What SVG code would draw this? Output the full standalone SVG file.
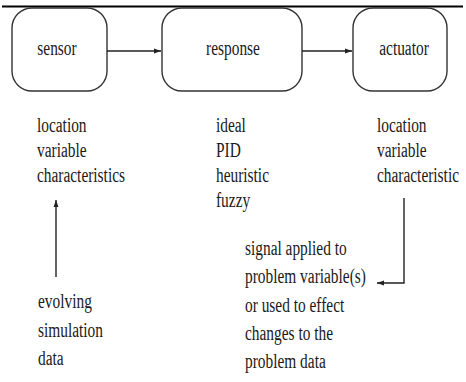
<svg xmlns="http://www.w3.org/2000/svg" width="466" height="382" viewBox="0 0 466 382">
<style>
.box{fill:#fff;stroke:#333;stroke-width:1.4}
.t{font-family:"Liberation Serif","Times New Roman",serif;font-size:20px;fill:#1a1a1a}
.c{text-anchor:middle}
.ln{stroke:#222;stroke-width:1.4;fill:none}
</style>
<defs>
<marker id="ah" viewBox="0 0 10 10" refX="10" refY="5" markerWidth="7" markerHeight="7" orient="auto" markerUnits="userSpaceOnUse">
<path d="M0,1.5 L10,5 L0,8.5 z" fill="#222"/>
</marker>
</defs>
<rect width="466" height="382" fill="#fff"/>
<line x1="2" y1="6.5" x2="463" y2="6.5" stroke="#000" stroke-width="2"/>
<g id="sensor">
<rect class="box" x="12" y="8" width="95" height="83" rx="20"/>
<text class="t c" transform="translate(57,55) scale(0.77,1)">sensor</text>
</g>
<g id="response">
<rect class="box" x="162" y="8" width="140" height="83" rx="20"/>
<text class="t c" transform="translate(233,55) scale(0.77,1)">response</text>
</g>
<g id="actuator">
<rect class="box" x="353" y="8" width="94" height="83" rx="20"/>
<text class="t c" transform="translate(404,55) scale(0.77,1)">actuator</text>
</g>
<g id="sensor-notes">
<text class="t" transform="translate(37,131.5) scale(0.77,1)">location</text>
<text class="t" transform="translate(37,156.5) scale(0.77,1)">variable</text>
<text class="t" transform="translate(37,181.5) scale(0.77,1)">characteristics</text>
</g>
<g id="response-notes">
<text class="t" transform="translate(216,131.5) scale(0.77,1)">ideal</text>
<text class="t" transform="translate(216,157) scale(0.77,1)">PID</text>
<text class="t" transform="translate(216,182) scale(0.77,1)">heuristic</text>
<text class="t" transform="translate(216,207) scale(0.77,1)">fuzzy</text>
</g>
<g id="actuator-notes">
<text class="t" transform="translate(377,131.5) scale(0.77,1)">location</text>
<text class="t" transform="translate(377,156.5) scale(0.77,1)">variable</text>
<text class="t" transform="translate(377,182) scale(0.77,1)">characteristic</text>
</g>
<g id="data">
<text class="t" transform="translate(38,308) scale(0.77,1)">evolving</text>
<text class="t" transform="translate(38,336.5) scale(0.77,1)">simulation</text>
<text class="t" transform="translate(38,365) scale(0.77,1)">data</text>
</g>
<g id="signal">
<text class="t" transform="translate(245,255) scale(0.77,1)">signal applied to</text>
<text class="t" transform="translate(245,283) scale(0.77,1)">problem variable(s)</text>
<text class="t" transform="translate(245,311.5) scale(0.77,1)">or used to effect</text>
<text class="t" transform="translate(245,340) scale(0.77,1)">changes to the</text>
<text class="t" transform="translate(245,367.5) scale(0.77,1)">problem data</text>
</g>
<g id="connectors">
<line class="ln" x1="107" y1="51" x2="161" y2="51" marker-end="url(#ah)"/>
<line class="ln" x1="302" y1="51" x2="352" y2="51" marker-end="url(#ah)"/>
<line class="ln" x1="56" y1="277" x2="56" y2="200" marker-end="url(#ah)"/>
<polyline class="ln" points="404,198 404,283 377,283" marker-end="url(#ah)"/>
</g>
</svg>
